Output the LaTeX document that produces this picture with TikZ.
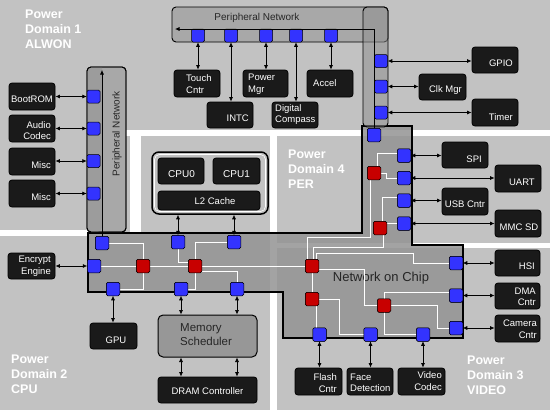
\documentclass[tikz,border=0pt]{standalone}
\usepackage{fontspec}
\setmainfont{Liberation Sans}
\usetikzlibrary{arrows.meta,fit,calc}
\definecolor{bg}{HTML}{C2C2C2}
\definecolor{devblk}{HTML}{1A1A1A}
\definecolor{nocgray}{HTML}{939393}
\definecolor{pngray}{HTML}{A8A8A8}
\definecolor{pndark}{HTML}{9C9C9C}
\definecolor{sqblue}{HTML}{3333FF}
\definecolor{sqred}{HTML}{C80000}
\begin{document}
\begin{tikzpicture}[x=1pt,y=-1pt,
  devbox/.style={draw=black, line width=0.8pt, fill=devblk, rounded corners=3pt, inner sep=0pt},
  devtext/.style={text=white, font=\fontsize{9.5}{11.5}\selectfont, inner sep=0pt},
  bsq/.style={draw=black, line width=0.5pt, fill=sqblue, rounded corners=1.5pt, minimum size=13pt, inner sep=0pt},
  rsq/.style={bsq, fill=sqred},
  link/.style={draw=white, line width=0.9pt},
  biarrow/.style={draw=black, line width=0.7pt, {Latex[length=4.5pt,width=4pt]}-{Latex[length=4.5pt,width=4pt]}},
  parrow/.style={draw=black, line width=0.7pt, -{Latex[length=4.5pt,width=4pt]}},
  domlabel/.style={text=white, font=\bfseries\fontsize{12.5}{15}\selectfont, align=left, inner sep=0pt, anchor=north west},
  pnet/.style={draw=black, line width=0.9pt, rounded corners=4pt},
  gap/.style={fill=white}
]
\useasboundingbox (0,0) rectangle (550,410);
\fill[bg] (0,0) rectangle (550,410);
% domain gaps
\fill[gap] (125,130) rectangle (550,136);
\fill[gap] (130,130) rectangle (141,232);
\fill[gap] (0,230) rectangle (88,236);
\fill[gap] (270,130) rectangle (277,410);
\fill[gap] (277,243) rectangle (550,248);

% domain labels
\node[domlabel] (d1) at (25,9.5) {Power\\Domain 1\\ALWON};
\node[domlabel] (d4) at (288,150) {Power\\Domain 4\\PER};
\node[domlabel] (d2) at (11,355) {Power\\Domain 2\\CPU};
\node[domlabel] (d3) at (467,356) {Power\\Domain 3\\VIDEO};

% network on chip body
\draw[line width=1.6pt, fill=nocgray, fill opacity=0.85, draw opacity=1]
  (88,233) -- (362,233) -- (362,126) -- (412,126) -- (412,245) -- (463,245)
  -- (463,338) -- (283,338) -- (283,292) -- (88,292) -- cycle;
\node[font=\fontsize{13}{15}\selectfont, text=black!85] (noclabel) at (381,278) {Network on Chip};

% peripheral networks
\draw[pnet, fill=pngray] (172,7) rectangle (388,42);
\node[font=\fontsize{10}{12}\selectfont, text=black!85] (ptoplabel) at (257,18) {Peripheral Network};
\draw[pnet, fill=pngray!85!black, fill opacity=0.55, draw opacity=1] (363,7) rectangle (388,127);
\draw[pnet, fill=pngray] (87,67) rectangle (126,232);
\fill[pndark, rounded corners=4pt] (102,67.5) -- (87.5,67.5) -- (87.5,231.5) -- (102,231.5) [sharp corners] -- cycle;
\draw[black, line width=0.9pt, rounded corners=4pt] (87,67) rectangle (126,232);
\node[font=\fontsize{10}{12}\selectfont, text=black!85, rotate=90] (pleftlabel) at (117,134) {Peripheral Network};

% CPU cluster
\node[draw=black, line width=1.5pt, rounded corners=7pt, fill=bg, inner sep=0pt, fit={(152,152) (268,214)}] (cpu) {};
\draw[white, line width=0.6pt, rounded corners=5pt] (154.5,154.5) rectangle (265.5,211.5);
\node[devbox, fit={(158,158) (204,184)}] (cpu0) {};
\node[devbox, fit={(213,158) (260,184)}] (cpu1) {};
\node[devbox, fit={(158,191) (260,210)}] (l2) {};
\node[devtext, font=\fontsize{10}{12}\selectfont] (cpu0-t) at (181.5,174) {CPU0};
\node[devtext, font=\fontsize{10}{12}\selectfont] (cpu1-t) at (236.5,174) {CPU1};
\node[devtext] (l2-t) at (215,201) {L2 Cache};

% memory
\node[draw=black, line width=1pt, rounded corners=5pt, fill=pngray!90!black, inner sep=0pt, fit={(158,315) (257,357)}] (mem) {};
\node[font=\fontsize{11.5}{14}\selectfont, text=black!85, align=left, anchor=west, inner sep=0pt] (mem-t) at (180,335) {Memory\\Scheduler};
\node[devbox, fit={(158,377) (257,403)}] (dram) {};
\node[devtext] (dram-t) at (207.5,391) {DRAM Controller};

% devices
\node[devbox, fit={(9,83) (55,110)}] (boot) {};
\node[devbox, fit={(9,115) (55,142)}] (audio) {};
\node[devbox, fit={(9,148) (55,175)}] (misc1) {};
\node[devbox, fit={(9,180) (55,207)}] (misc2) {};
\node[devbox, fit={(8,253) (55,279)}] (enc) {};
\node[devbox, fit={(90,323) (137,349)}] (gpu) {};
\node[devbox, fit={(174,70) (220,97)}] (touch) {};
\node[devbox, fit={(207,102) (253,128)}] (intc) {};
\node[devbox, fit={(243,70) (288,97)}] (pmgr) {};
\node[devbox, fit={(272,102) (318,128)}] (dcomp) {};
\node[devbox, fit={(307,70) (353,97)}] (accel) {};
\node[devbox, fit={(472,47) (518,73)}] (gpio) {};
\node[devbox, fit={(419,74) (466,100)}] (clk) {};
\node[devbox, fit={(472,99) (518,126)}] (timer) {};
\node[devbox, fit={(442,142) (488,168)}] (spi) {};
\node[devbox, fit={(495,165) (541,192)}] (uart) {};
\node[devbox, fit={(442,188) (488,215)}] (usb) {};
\node[devbox, fit={(495,210) (541,237)}] (mmc) {};
\node[devbox, fit={(495,250) (540,276)}] (hsi) {};
\node[devbox, fit={(495,283) (540,309)}] (dma) {};
\node[devbox, fit={(495,315) (540,342)}] (cam) {};
\node[devbox, fit={(295,368) (342,395)}] (flash) {};
\node[devbox, fit={(347,368) (393,395)}] (face) {};
\node[devbox, fit={(398,368) (445,395)}] (video) {};

\node[devtext] (boot-t) at (32,99) {BootROM};
\node[devtext, align=right, anchor=east] (audio-t) at (51,130.5) {Audio\\Codec};
\node[devtext, anchor=east] (misc1-t) at (51,165) {Misc};
\node[devtext, anchor=east] (misc2-t) at (51,197) {Misc};
\node[devtext, align=right, anchor=east] (enc-t) at (51,266) {Encrypt\\Engine};
\node[devtext] (gpu-t) at (116,340) {GPU};
\node[devtext, align=left, anchor=west] (touch-t) at (186,84) {Touch\\Cntr};
\node[devtext, anchor=east] (intc-t) at (249,118) {INTC};
\node[devtext, align=left, anchor=west] (pmgr-t) at (248,84) {Power\\Mgr};
\node[devtext, align=left, anchor=west] (dcomp-t) at (275,114.5) {Digital\\Compass};
\node[devtext, anchor=west] (accel-t) at (313,83) {Accel};
\node[devtext, anchor=east] (gpio-t) at (513,63) {GPIO};
\node[devtext, anchor=east] (clk-t) at (462,90) {Clk Mgr};
\node[devtext, anchor=east] (timer-t) at (513,117) {Timer};
\node[devtext, anchor=east] (spi-t) at (482,159) {SPI};
\node[devtext, anchor=east] (uart-t) at (535,182) {UART};
\node[devtext] (usb-t) at (465,204) {USB Cntr};
\node[devtext] (mmc-t) at (519,227) {MMC SD};
\node[devtext, anchor=east] (hsi-t) at (535,266) {HSI};
\node[devtext, align=right, anchor=east] (dma-t) at (536,297) {DMA\\Cntr};
\node[devtext, align=right, anchor=east] (cam-t) at (537,329) {Camera\\Cntr};
\node[devtext, align=right, anchor=east] (flash-t) at (337,383) {Flash\\Cntr};
\node[devtext, align=left, anchor=west] (face-t) at (350,383) {Face\\Detection};
\node[devtext, align=right, anchor=east] (video-t) at (442,381) {Video\\Codec};

% router / port coordinates (nodes drawn after links)
\coordinate (cB1) at (102,243); \coordinate (cB2) at (94,266);
\coordinate (cR1) at (143,266); \coordinate (cB3) at (113,289);
\coordinate (cB4) at (178,242); \coordinate (cR2) at (195,266);
\coordinate (cB5) at (181,289); \coordinate (cB6) at (234,242);
\coordinate (cB7) at (237,289);

% NoC squares
\node[bsq] (B1) at (cB1) {}; \node[bsq] (B2) at (cB2) {};
\node[rsq] (R1) at (cR1) {}; \node[bsq] (B3) at (cB3) {};
\node[bsq] (B4) at (cB4) {}; \node[rsq] (R2) at (cR2) {};
\node[bsq] (B5) at (cB5) {}; \node[bsq] (B6) at (cB6) {};
\node[bsq] (B7) at (cB7) {};
\node[bsq] (BS) at (374,135) {};
\node[bsq] (Bspi) at (404,155.5) {};
\node[rsq] (Rp1) at (374,173) {};
\node[bsq] (Buart) at (404,178) {};
\node[bsq] (Busb) at (404,200.5) {};
\node[rsq] (Rp2) at (380,228) {};
\node[bsq] (Bmmc) at (404,223.5) {};
\node[rsq] (R3) at (312,266) {};
\node[rsq] (R4) at (312,299) {};
\node[rsq] (R5) at (384,305.5) {};
\node[bsq] (Bhsi) at (456,263) {};
\node[bsq] (Bdma) at (456,295.5) {};
\node[bsq] (Bcam) at (456,328) {};
\node[bsq] (Bfl) at (319.5,334.5) {};
\node[bsq] (Bfd) at (370.5,334.5) {};
\node[bsq] (Bvc) at (423,334.5) {};

% white links (drawn on top of the NoC body, then squares redrawn over)
\begin{scope}[on background layer/.style={}]
\draw[link] (B1.east) -| (R1.north);
\draw[link] (B2.east) -- (R1.west);
\draw[link] (R1.south) |- (B3.east);
\draw[link] (R1.east) -- (R2.west);
\draw[link] (B4.south) |- ($(R2.west)+(0,-4)$);
\draw[link] (B6.west) -| (R2.north);
\draw[link] (R2.south) |- (B5.east);
\draw[link] (R2.east) -- (R3.west);
\draw[link] ($(R2.east)+(0,5)$) -| (B7.north);
\draw[link] ($(Rp1.north)+(3,0)$) |- ($(Bspi.west)+(0,-2)$);
\draw[link] (Rp1.east) -- ++(6,0) |- (Buart.west);
\draw[link] ($(Rp1.south)+(-4,0)$) -- ++(0,58) -| ($(R3.north)+(-5,0)$);
\draw[link] ($(Busb.west)+(0,-3)$) -| ($(Rp2.north)+(2,0)$);
\draw[link] (Bmmc.west) -- (Bmmc.west -| Rp2.east);
\draw[link] ($(Rp2.south)+(3,0)$) -- ++(0,13) -| ($(R3.north)+(1,0)$);
\draw[link] ($(R3.north)+(4,0)$) -- ++(0,-6) -| ($(Bhsi.west)+(-36,0)$) -- (Bhsi.west);
\draw[link] (R3.south) -- (R4.north);
\draw[link] ($(R4.south)+(4,0)$) -- ($(Bfl.north)+(-3.5,0)$);
\draw[link] (R4.east) -- ++(21,0) |- (Bfd.west);
\draw[link] ($(R3.east)+(0,3)$) -- ++(46,0) |- (R5.west);
\draw[link] (R5.north) |- ($(Bdma.west)+(0,-3)$);
\draw[link] (R5.east) -| ($(Bcam.west)+(-12,0)$) -- (Bcam.west);
\draw[link] (R5.south) |- (Bvc.west);
\end{scope}

% redraw squares over links
\foreach \n in {B1,B2,B3,B4,B5,B6,B7,BS,Bspi,Buart,Busb,Bmmc,Bhsi,Bdma,Bcam,Bfl,Bfd,Bvc}{
  \draw[draw=black, line width=0.5pt, fill=sqblue, rounded corners=1.5pt] (\n.south west) rectangle (\n.north east);}
\foreach \n in {R1,R2,R3,R4,R5,Rp1,Rp2}{
  \draw[draw=black, line width=0.5pt, fill=sqred, rounded corners=1.5pt] (\n.south west) rectangle (\n.north east);}

% peripheral ports
\node[bsq] (P1) at (93.5,96.5) {};
\node[bsq] (P2) at (93.5,128.5) {};
\node[bsq] (P3) at (93.5,161) {};
\node[bsq] (P4) at (93.5,193.5) {};
\node[bsq] (T1) at (198,35.5) {};
\node[bsq] (T2) at (231,35.5) {};
\node[bsq] (T3) at (266,35.5) {};
\node[bsq] (T4) at (296,35.5) {};
\node[bsq] (T5) at (331,35.5) {};
\node[bsq] (V1) at (381,61) {};
\node[bsq] (V2) at (381,86.5) {};
\node[bsq] (V3) at (381,112.5) {};

% peripheral backbone arrows
\coordinate (ptopend) at (175,29);
\coordinate (pleftend) at (102,70);
\draw[parrow] (BS.north) |- (ptopend);
\draw[parrow] (B1.north) -- (pleftend);

% device arrows
\draw[biarrow] (P1.west -| boot.east) -- (P1.west);
\draw[biarrow] (P2.west -| audio.east) -- (P2.west);
\draw[biarrow] (P3.west -| misc1.east) -- (P3.west);
\draw[biarrow] (P4.west -| misc2.east) -- (P4.west);
\draw[biarrow] (B2.west -| enc.east) -- (B2.west);
\draw[biarrow] (B3.south) -- (B3.south |- gpu.north);
\draw[biarrow] (B5.south) -- (B5.south |- mem.north);
\draw[biarrow] (B7.south) -- (B7.south |- mem.north);
\draw[biarrow] (mem.south -| B5) -- (dram.north -| B5);
\draw[biarrow] (mem.south -| B7) -- (dram.north -| B7);
\draw[biarrow] (cpu.south -| B4) -- (B4.north);
\draw[biarrow] (cpu.south -| B6) -- (B6.north);
\draw[biarrow] (T1.south) -- (T1.south |- touch.north);
\draw[biarrow] (T2.south) -- (T2.south |- intc.north);
\draw[biarrow] (T3.south) -- (T3.south |- pmgr.north);
\draw[biarrow] (T4.south) -- (T4.south |- dcomp.north);
\draw[biarrow] (T5.south) -- (T5.south |- accel.north);
\draw[biarrow] (V1.east) -- (V1.east -| gpio.west);
\draw[biarrow] (V2.east) -- (V2.east -| clk.west);
\draw[biarrow] (V3.east) -- (V3.east -| timer.west);
\draw[biarrow] (Bspi.east) -- (Bspi.east -| spi.west);
\draw[biarrow] (Buart.east) -- (Buart.east -| uart.west);
\draw[biarrow] (Busb.east) -- (Busb.east -| usb.west);
\draw[biarrow] (Bmmc.east) -- (Bmmc.east -| mmc.west);
\draw[biarrow] (Bhsi.east) -- (Bhsi.east -| hsi.west);
\draw[biarrow] (Bdma.east) -- (Bdma.east -| dma.west);
\draw[biarrow] (Bcam.east) -- (Bcam.east -| cam.west);
\draw[biarrow] (Bfl.south) -- (Bfl.south |- flash.north);
\draw[biarrow] (Bfd.south) -- (Bfd.south |- face.north);
\draw[biarrow] (Bvc.south) -- (Bvc.south |- video.north);
\end{tikzpicture}
\end{document}
